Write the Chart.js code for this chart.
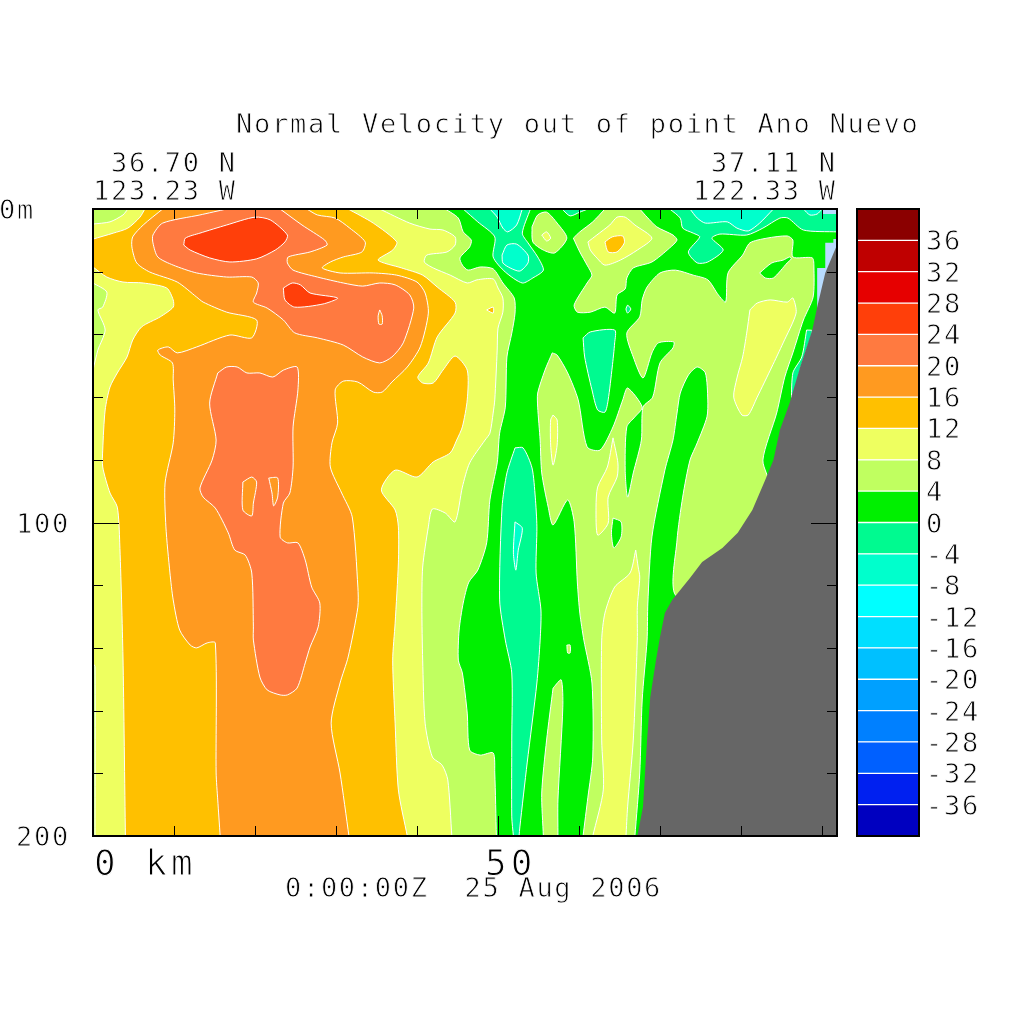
<!DOCTYPE html>
<html>
<head>
<meta charset="utf-8">
<title>Normal Velocity out of point Ano Nuevo</title>
<script src="https://cdn.jsdelivr.net/npm/chart.js@4"></script>
<style>
  html, body { margin: 0; padding: 0; background: #fff; }
  #wrap { position: relative; width: 1024px; height: 1024px; }
  canvas { position: absolute; left: 0; top: 0; }
</style>
</head>
<body>
<div id="wrap">
  <canvas id="section" width="1024" height="1024"></canvas>
  <canvas id="colorbar" width="1024" height="1024"></canvas>
</div>
<script>
// axis values
var rangeKm = 91.85;
var rangeDepth = 200;
var xTicks = [0, 10, 20, 30, 40, 50, 60, 70, 80, 90];
var yTicks = [0, 20, 40, 60, 80, 100, 120, 140, 160, 180, 200];

// colour scale, lower edge of each band
var bandEdges = [-40, -36, -32, -28, -24, -20, -16, -12, -8, -4, 0, 4, 8, 12, 16, 20, 24, 28, 32, 36];
var bandColors = ['#0000c0', '#0020f0', '#0060ff', '#0080ff', '#00a0ff', '#00c0ff', '#00dfff', '#00ffff', '#00ffcc', '#00fa90',
                  '#00f000', '#c0ff60', '#eeff60', '#ffc000', '#ff9a20', '#ff7a40', '#ff3f0a', '#e60000', '#bf0000', '#8b0000'];
var colorbarLabels = [-36, -32, -28, -24, -20, -16, -12, -8, -4, 0, 4, 8, 12, 16, 20, 24, 28, 32, 36];
var landColor = '#666666';
var shelfColor = '#b8dcff';

// contours, [km, depth m]
var whole = [[0,0],[91.85,0],[91.85,200],[0,200]];
var left4 = [[43.5,0],[45.1,2.9],[45.7,7.3],[46.7,9.9],[46.5,12.1],[45.3,15.6],[45.6,17.9],[46.3,19.5],[47.8,18.5],[49.4,19.1],[50.6,23.6],[52,28.4],[52.1,33.2],[51.7,39.6],[51.1,47.2],[50.9,63.2],[50.2,71.5],[49.9,81],[49,92.8],[48.6,106.5],[47.5,115.2],[46.4,119],[45.7,125.7],[45.2,134.3],[45.1,143.9],[45.6,148],[46.2,160.8],[46.5,172.6],[47.8,174.2],[49.4,173.5],[49.6,179.9],[49.8,200],[0,200],[0,0]];
var left8 = [[35.4,0],[39.1,4.5],[41.6,6.4],[43.2,6.7],[44.7,8.9],[44.7,11.5],[43.7,13.7],[41.2,14.7],[40.9,16.9],[42,18.8],[44.1,21.1],[46.2,23.6],[47.4,22.6],[49.4,22.3],[50,25.2],[50.6,28.4],[50.6,32.9],[50,38],[49.9,45],[49.6,60.9],[49.4,65.1],[49,71.5],[48.4,73.7],[46.5,81],[45.6,88.7],[44.7,99.8],[43.5,97],[41.9,95.7],[41.4,101.4],[40.7,114.2],[40.6,127],[40.7,143.9],[41,164],[41.9,174.8],[43.1,177.4],[43.8,182.1],[44.3,200],[0,200],[0,0]];
var left12 = [[6.4,0],[31.5,0],[34.6,4.5],[37.5,10.5],[37,13.1],[35.2,16.3],[38.1,18.8],[40.7,21.1],[42.5,24.9],[44.7,29.7],[44.7,33.2],[42.5,40.8],[41.4,49.1],[40.1,53.6],[40.7,55.5],[42,55.5],[43.2,51.4],[44.7,46.9],[46.2,51.4],[46.2,60.9],[45.6,69.5],[44.9,73.7],[44.1,77.8],[42,80.7],[40,85.5],[37.3,83.3],[35.6,89.6],[37.3,96],[37.7,101.4],[37.7,112.9],[37.3,132.1],[37,143.9],[37.3,164],[37.7,185.3],[38.8,200],[4,200],[3.7,142.9],[3.3,106.5],[3,95.1],[2.1,90.6],[1.2,82.3],[1.2,76.9],[1.5,64.1],[2.1,56.8],[3,52.3],[4.2,47.2],[4.9,41.8],[6,37.6],[8.3,34.4],[9.9,31.3],[9.9,29],[9.1,25.2],[6.2,23.6],[3.7,23.3],[1.7,21.7],[0,18.5],[0,9.6],[2.5,7.7],[4.3,6.1],[5.8,2.6]];
var left16 = [[8.6,0],[26.4,0],[27.7,1.9],[29.9,2.9],[31.7,6.1],[33.6,10.5],[33.2,13.7],[30.9,15.3],[29.3,16.9],[28.3,18.8],[30.5,20.4],[34.6,20.4],[37.5,21.1],[40,23.3],[41,26.8],[41.4,33.2],[40.4,44],[38.8,50.4],[36.9,55.2],[35.7,58.4],[34.6,58.4],[32.7,55.2],[30.9,54.9],[29.9,57.7],[30.2,68.3],[29.5,74.6],[29.3,82.3],[30.7,90.6],[32,98.2],[32.7,120.6],[32.7,127],[31.5,142.9],[30.5,151.2],[29.4,164],[30.5,179.9],[31.6,200],[15.7,200],[15.4,188.5],[15.2,179.9],[15.1,138.4],[14.1,138.4],[12.8,140],[12,139.1],[10.7,134.3],[9.9,124.7],[9.5,116.1],[9,101.4],[8.9,87.4],[9.9,74.6],[10.1,64.1],[9.9,54.5],[9.8,49.1],[8.3,46.6],[8,45],[9.3,44],[10.4,45.9],[12.8,44],[16.9,40.2],[19.6,41.1],[20.2,35.4],[16.5,32.9],[13.6,29.7],[12.8,28.1],[10.4,23.3],[7,20.1],[5.4,17.2],[4.8,12.1],[4.9,8.9],[6.2,5.1]];
var upper20 = [[16.5,0],[23.1,0],[25.8,5.1],[28.6,9.9],[28.9,11.5],[26.8,13.7],[24.1,15.3],[24,17.2],[24.7,19.5],[27.7,21.7],[30.9,23.6],[33.3,24.6],[35.4,23.6],[37.3,24.2],[39.1,27.4],[39.6,31.6],[38.3,42.7],[36.9,47.2],[35.4,49.1],[33.3,47.2],[30.9,43.4],[27.7,41.1],[24.9,39.5],[23.5,35.4],[21.5,31.6],[19.8,29.7],[20.2,26.8],[20.4,23.6],[19.6,21.7],[16.5,21.7],[12.8,20.4],[9.9,17.9],[8,15.3],[7.4,10.8],[7.4,8.3],[8.6,4.5],[13.2,1.9]];
var upper24 = [[11.2,11.5],[11.4,9.3],[13.2,7.7],[16.5,5.1],[20,2.6],[21.9,3.5],[24,8.3],[23.7,10.5],[22.5,13.1],[20.2,15.9],[16.9,16.9],[14.4,15.6],[12,13.1]];
var mid24 = [[23.5,25.2],[24.6,23.6],[25.6,24.2],[26.8,26.8],[30.2,28.4],[28.4,30.3],[24.9,31.3],[23.7,29]];
var sliver16 = [[35.4,32.2],[35.7,34.1],[35.7,36.7],[35.3,36.7],[35.2,34.1]];
var speck12 = [[48.6,32.2],[49.4,31.3],[49.4,33.2]];
var lower20 = [[15.4,52.3],[16.5,50.4],[17.8,50.4],[19,52.3],[20.6,52.3],[22.2,53.6],[23.5,51.4],[25.2,50.4],[25.3,57.7],[24.7,69.5],[24.7,82.3],[24.3,90.6],[23.5,93.8],[23.1,104.6],[24,106.5],[25.3,106.5],[26.2,112],[27,120.6],[28,125.7],[27.8,133.3],[26.8,139.7],[26.2,144.8],[25.2,152.8],[24,155],[23.1,155],[21.5,153.4],[20.6,149.3],[19.8,137.5],[19.8,133.3],[19.6,116.1],[18.8,110.4],[17.5,108.8],[16.7,103.3],[15.1,95.4],[13.6,91.9],[13.2,89],[14.7,80.1],[15.2,73.7],[14.4,61.9]];
var hole16a = [[18.5,87.1],[19.6,85.5],[20.2,87.1],[19.8,93.8],[19.6,97.9],[18.5,96]];
var hole16b = [[21.7,85.8],[22.8,85.8],[22.8,91.9],[22.3,94.7],[22.1,90.6]];
var corner4 = [[0,0],[4.3,0],[3.7,1.9],[2.1,4.1],[0,4.8]];
var edge4 = [[0,23.6],[1.7,26.5],[1.2,31.3],[0.6,32.2],[1.5,38.6],[0.6,45],[0,51.4]];
var foot4 = [[0,145],[0.25,146],[0.25,200],[0,200]];

var topNeg4a = [[45.7,0],[47.5,4.1],[49.6,8.9],[49.4,15.3],[50.9,20.1],[53,23.6],[54.3,22],[55.6,19.5],[54.9,15.3],[53.7,10.8],[53,7.7],[54,0]];
var topNeg8a = [[49,0],[49.9,2.6],[50.6,6.1],[51.2,7.3],[52.3,5.1],[53,0]];
var ringNeg8 = [[50.5,14.7],[51.1,11.5],[52.3,11.2],[53.7,14.7],[53.7,17.2],[52.7,19.8],[51.5,18.8],[50.6,17.2]];
var patch4 = [[54.2,5.7],[54.9,1.9],[56,1],[57.3,4.5],[58.5,9.3],[57,14],[55.6,13.1],[54.3,10.5]];
var patch8 = [[55.4,8.3],[56,7.3],[56.5,9.3],[56,10.2]];
var topNeg4b = [[57.9,0],[58.9,2.2],[60.1,1],[61.1,0]];
var cap4 = [[59.3,9.3],[60.1,7.3],[61.7,4.1],[63.2,0],[67.5,0],[68.4,2.6],[69.6,5.7],[71.6,8.3],[72.1,9.9],[71.2,12.4],[69,16.9],[66.7,18.8],[65.9,22],[65.7,25.5],[64.7,27.4],[64.4,33.2],[63.2,31.3],[61.4,32.9],[59.8,32.9],[59.4,30.6],[61,23.6],[61.6,21.1],[61,17.9],[60.1,13.7]];
var cap8 = [[61.1,10.5],[62.2,8.3],[63.8,5.1],[64.7,2.6],[65.7,2.6],[66.9,5.1],[69,9.3],[67.2,13.1],[65.1,16.3],[63.2,17.9],[62.2,15.6],[61.4,13.1]];
var cap12 = [[63.2,10.5],[64.1,8.9],[65.4,8.6],[65.6,10.8],[64.7,13.7],[63.6,13.7]];
var topNeg4c = [[71.2,0],[72.5,2.9],[72.8,6.1],[74.1,7.7],[74.9,8.9],[73.5,13.7],[74.6,17.2],[75.9,16.9],[77.8,13.1],[76.4,9.3],[77.4,8],[80.7,8.3],[82.7,6.1],[84.8,2.9],[85.8,2.9],[87.7,6.7],[91.85,7.3],[91.85,0]];
var topNeg8c = [[73.7,0],[74.6,2.9],[75.6,4.5],[78.3,4.1],[79.5,6.1],[80.9,7],[82.3,4.5],[84,0]];
var topNeg8d = [[87.7,0],[88.5,1.9],[89.4,1.6],[90,0]];
var right4 = [[56.7,45.9],[57.3,46.6],[58.6,52.3],[59.9,60.9],[61,75.9],[62.6,76.9],[64.2,69.5],[65.4,60.9],[66,57.1],[67.8,63.2],[66.9,66.3],[65.9,69.5],[65.7,83.3],[66,91.9],[66.7,84.2],[67.7,73.7],[67.9,63.2],[69.1,60],[70,49.1],[71.6,44.3],[71.7,42.4],[69.8,42.7],[69,45.9],[67.9,53.9],[66.7,47.2],[65.9,39.6],[67.5,34.4],[67.8,29],[68.4,24.9],[70,20.4],[71.9,19.5],[74.1,21.1],[75.9,22.6],[77.2,27.4],[78.1,29.7],[78.4,20.4],[80.2,14.7],[81.1,10.8],[83.2,9.3],[85.7,8.6],[86.4,9.9],[86.4,15.3],[88.8,15.6],[89,18.5],[88.9,28.1],[87.7,35.4],[86.4,45.9],[85.4,53.6],[84.4,65.1],[82.7,80.1],[83.6,89.6],[77.4,124.7],[71.9,123.1],[72.1,105.6],[72.8,91.9],[73.7,80.1],[74.6,74.6],[75.8,66.3],[75.9,60.9],[75.6,52.3],[74.6,50.4],[73.5,53],[72.5,58.7],[72.1,65.1],[71.6,73.7],[70.6,83.3],[69,104.6],[68.5,125.7],[68.4,137.5],[67.8,156.6],[67.5,179.9],[66.9,200],[60.5,200],[61.1,187.6],[61.7,174.8],[61.6,151.2],[60.6,137.5],[60.1,128.9],[59.8,119.3],[59.4,99.8],[58.6,92.8],[56.8,100.8],[56.2,95.1],[55.4,84.2],[55.2,73.7],[54.9,63.2],[54.9,58.7],[55.8,51.4]];
var pocket0 = [[82.3,20.4],[83.8,17.2],[85.2,16.3],[86,15.3],[86.2,15.9],[85.7,17.2],[84,22],[83,22]];
var right8 = [[81.1,32.2],[82,30],[83.6,29],[85.7,29.7],[86.4,28.4],[86.8,33.2],[85.2,42.7],[83.8,50.4],[82,60],[80.9,65.7],[80.1,65.7],[79.1,60],[79.5,53.9],[80.2,47.2],[80.7,39.6]];
var coastNeg4 = [[88.1,38.6],[88.8,38.9],[88.1,45],[87.3,51.4],[86.3,61.9],[86.4,52.3],[87.5,47.2]];
var speckNeg4 = [[66,30.6],[66.4,31.9],[66,33.2],[65.8,31.9]];
var blobNeg4 = [[60.5,41.1],[61.4,39.2],[64.4,38.6],[64.4,42.7],[64.1,50.4],[63.6,60.9],[63.2,64.8],[62.3,64.1],[61.6,57.7],[60.7,47.2]];
var sliver8 = [[56.8,65.7],[57.3,67.3],[57.3,75.3],[56.8,81.7],[56.5,75.3],[56.5,67.3]];
var finger8 = [[64.2,73],[64.8,81],[64.7,85.5],[63.6,91.9],[63.6,100.2],[62.3,104],[62.1,95.1],[62.3,88.7],[63.5,82.3]];
var pocket0b = [[64.2,98.6],[65.2,99.8],[65.2,104.6],[64.3,108.1],[64,103.3]];
var strip8 = [[67,108.8],[67.3,114.2],[67.5,117.4],[67.2,127],[67.2,137.5],[66.7,169.4],[66,190.7],[65.8,200],[61.7,200],[63,185.3],[62.8,169.4],[62.8,137.5],[63.2,128.9],[64.4,120.6],[66.3,116.1]];
var columnNeg4 = [[52.1,76.2],[53.1,76.2],[54.2,82.6],[54.6,91.9],[54.8,101.4],[54.7,116.1],[55.3,127.9],[55.2,137.5],[54.8,151.2],[53.6,176.7],[52.7,197.1],[52.6,200],[51.9,200],[51.7,193.9],[51.7,169.4],[51.7,148],[50.9,137.5],[50.2,124.7],[50.5,95.1],[51.1,84.2]];
var columnNeg8 = [[52.1,99.8],[53,101.8],[52.5,108.8],[52.2,115.2],[51.9,109.7]];
var narrow4 = [[56.8,152.8],[57.8,150.2],[58,158.9],[57.4,188.5],[57.4,200],[55.6,200],[55.4,186.3],[56,169.4]];
var tiny4 = [[58.5,139.1],[58.9,139.1],[58.9,141.6],[58.6,141.6]];

var shelfTop = [[90,0],[91.85,0],[91.85,1.6],[90,1.6]];
var shelfCoast = [[91.4,9.6],[91.85,9.6],[91.85,29],[89.4,34.8],[89.4,18.8],[90.4,18.8],[90.4,10.8],[91.4,10.8]];
var land = [[91.85,11.5],[90.4,20.4],[89.4,31.3],[88.8,38.6],[87.3,50.4],[86,61.9],[84.8,70.5],[84,80.1],[83,86.4],[81.4,96],[79.6,103.3],[77.7,108.1],[75.2,112.6],[73.7,117.7],[71.5,124.7],[70.6,128.9],[70,136.5],[69.5,143.9],[68.8,155.7],[68.4,169.4],[67.9,190.7],[67.2,200],[91.85,200]];

// painter's order, [contour, band]
var layers = [
  [left4, 4], [left8, 8], [left12, 12], [left16, 16], [upper20, 20], [upper24, 24], [mid24, 24], [sliver16, 16],
  [speck12, 12], [lower20, 20], [hole16a, 16], [hole16b, 16], [corner4, 4], [edge4, 4], [foot4, 4],
  [topNeg4a, -4], [topNeg8a, -8], [ringNeg8, -8], [patch4, 4], [patch8, 8], [topNeg4b, -4],
  [cap4, 4], [cap8, 8], [cap12, 12], [topNeg4c, -4], [topNeg8c, -8], [topNeg8d, -8],
  [right4, 4], [pocket0, 0], [right8, 8], [coastNeg4, -4], [speckNeg4, -4], [blobNeg4, -4],
  [sliver8, 8], [finger8, 8], [pocket0b, 0], [strip8, 8], [columnNeg4, -4], [columnNeg8, -8],
  [narrow4, 4], [tiny4, 4]
];

function onFrame(p) {
  return p[0] === 0 || p[0] === rangeKm || p[1] === 0 || p[1] === rangeDepth;
}

// points on the frame go in twice so the spline keeps a hard corner there
function toPoints(poly) {
  var pts = [];
  poly.concat([poly[0]]).forEach(function (p) {
    pts.push({x: p[0], y: p[1]});
    if (onFrame(p)) pts.push({x: p[0], y: p[1]});
  });
  return pts;
}

function areaSet(poly, color, border) {
  return {
    data: toPoints(poly),
    showLine: true,
    fill: 'shape',
    tension: border ? 0.25 : 0,
    pointRadius: 0,
    backgroundColor: color,
    borderColor: border || color,
    borderWidth: border ? 1 : 0
  };
}

function colorOf(band) {
  return bandColors[bandEdges.indexOf(band)];
}

var sectionSets = [areaSet(whole, colorOf(0))];
layers.forEach(function (l) {
  sectionSets.push(areaSet(l[0], colorOf(l[1]), '#ffffff'));
});
sectionSets.push(areaSet(shelfTop, shelfColor));
sectionSets.push(areaSet(shelfCoast, shelfColor));
sectionSets.push(areaSet(land, landColor));
// chart.js paints the first dataset last
sectionSets.reverse();

// thin plotter look: fill the text then shave it with white
function putText(ctx, text, x, y, size, spacing) {
  ctx.save();
  ctx.font = size + 'px "DejaVu Sans Mono"';
  ctx.letterSpacing = spacing + 'px';
  ctx.textAlign = 'left';
  ctx.textBaseline = 'alphabetic';
  ctx.fillStyle = '#000';
  ctx.fillText(text, x, y);
  ctx.strokeStyle = '#fff';
  ctx.lineWidth = size > 30 ? 1.1 : 0.8;
  ctx.strokeText(text, x, y);
  ctx.restore();
}

var sectionDecor = {
  id: 'sectionDecor',
  afterDraw: function (chart) {
    var ctx = chart.ctx, a = chart.chartArea;
    var sx = chart.scales.x, sy = chart.scales.y;
    ctx.save();
    ctx.strokeStyle = '#000';
    ctx.lineWidth = 1;
    ctx.beginPath();
    xTicks.forEach(function (v) {
      var len = v === 50 ? 20 : 10;
      var px = Math.round(sx.getPixelForValue(v)) + 0.5;
      ctx.moveTo(px, a.top); ctx.lineTo(px, a.top + len);
      ctx.moveTo(px, a.bottom); ctx.lineTo(px, a.bottom - len);
    });
    yTicks.forEach(function (v) {
      var len = v === 100 ? 26 : 10;
      var py = Math.round(sy.getPixelForValue(v)) + 0.5;
      ctx.moveTo(a.left, py); ctx.lineTo(a.left + len, py);
      ctx.moveTo(a.right, py); ctx.lineTo(a.right - len, py);
    });
    ctx.stroke();
    ctx.lineWidth = 2;
    ctx.strokeRect(a.left, a.top, a.right - a.left, a.bottom - a.top);
    ctx.restore();

    putText(ctx, 'Normal Velocity out of point Ano Nuevo', 236, 133, 27, 1.73);
    putText(ctx, '36.70 N', 111, 172, 27, 1.7);
    putText(ctx, '123.23 W', 93, 200, 27, 1.7);
    putText(ctx, '37.11 N', 711, 172, 27, 1.7);
    putText(ctx, '122.33 W', 693, 200, 27, 1.7);
    putText(ctx, '0m', -1, sy.getPixelForValue(0) + 10, 27, 1.7);
    putText(ctx, '100', 16, sy.getPixelForValue(100) + 10, 27, 1.7);
    putText(ctx, '200', 16, sy.getPixelForValue(200) + 10, 27, 1.7);
    putText(ctx, '0 km', sx.getPixelForValue(0) + 1, 875, 36, 4);
    putText(ctx, '50', sx.getPixelForValue(50) - 13, 875, 36, 4);
    putText(ctx, '0:00:00Z  25 Aug 2006', 285, 897, 27, 1.7);
  }
};

new Chart(document.getElementById('section'), {
  type: 'scatter',
  data: {datasets: sectionSets},
  options: {
    responsive: false,
    animation: false,
    layout: {padding: {left: 85, top: 209, right: 187, bottom: 180}},
    plugins: {legend: {display: false}, tooltip: {enabled: false}},
    scales: {
      x: {
        min: 0, max: rangeKm,
        grid: {display: false}, border: {display: false}, ticks: {display: false}
      },
      y: {
        min: 0, max: rangeDepth, reverse: true,
        grid: {display: false}, border: {display: false}, ticks: {display: false}
      }
    }
  },
  plugins: [sectionDecor]
});

var colorbarDecor = {
  id: 'colorbarDecor',
  afterDraw: function (chart) {
    var ctx = chart.ctx, a = chart.chartArea, sy = chart.scales.y;
    ctx.save();
    ctx.strokeStyle = '#000';
    ctx.lineWidth = 2;
    ctx.strokeRect(a.left, a.top, a.right - a.left, a.bottom - a.top);
    ctx.restore();
    colorbarLabels.forEach(function (v) {
      putText(ctx, String(v), 926, sy.getPixelForValue(v) + 10, 27, 1.7);
    });
  }
};

new Chart(document.getElementById('colorbar'), {
  type: 'bar',
  data: {
    labels: ['velocity'],
    datasets: bandEdges.map(function (lo, i) {
      return {
        data: [[lo, lo + 4]],
        grouped: false,
        backgroundColor: bandColors[i],
        borderColor: '#ffffff',
        borderSkipped: false,
        borderWidth: {top: 1, bottom: 1, left: 0, right: 0},
        barPercentage: 1,
        categoryPercentage: 1
      };
    })
  },
  options: {
    responsive: false,
    animation: false,
    layout: {padding: {left: 849, top: 209, right: 105, bottom: 180}},
    plugins: {legend: {display: false}, tooltip: {enabled: false}},
    scales: {
      x: {grid: {display: false}, border: {display: false}, ticks: {display: false}},
      y: {min: -40, max: 40, grid: {display: false}, border: {display: false}, ticks: {display: false}}
    }
  },
  plugins: [colorbarDecor]
});
</script>
</body>
</html>
